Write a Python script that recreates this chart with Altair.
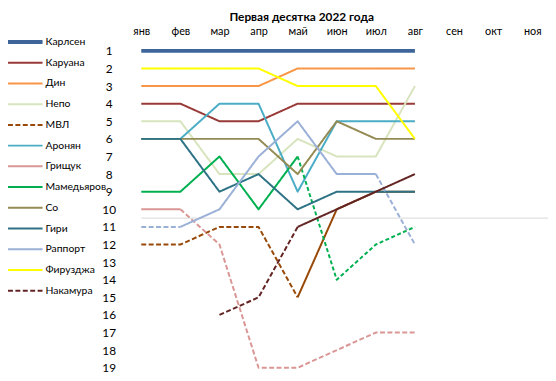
import altair as alt
import pandas as pd

# ---------------- data ----------------
months = ["янв", "фев", "мар", "апр", "май", "июн", "июл", "авг", "сен", "окт", "ноя"]
names = ["Карлсен", "Каруана", "Дин", "Непо", "МВЛ", "Аронян", "Грищук",
         "Мамедьяров", "Со", "Гири", "Раппорт", "Фирузджа", "Накамура"]
colors = ["#3E659A", "#983A37", "#F79646", "#D7E4BD", "#984807", "#4BACC6", "#D99694",
          "#00B050", "#948A54", "#2D7385", "#9BB0D6", "#FFFF00", "#632523"]

# monthly ranks, янв..авг (None = not in list)
karlsen = [1, 1, 1, 1, 1, 1, 1, 1]
caruana = [4, 4, 5, 5, 4, 4, 4, 4]
ding = [3, 3, 3, 3, 2, 2, 2, 2]
nepo = [5, 5, 8, 8, 6, 7, 7, 3]
mvl = [12, 12, 11, 11, 15, 10, 9, 9]
aronian = [6, 6, 4, 4, 9, 5, 5, 5]
grischuk = [10, 10, 12, 19, 19, 18, 17, 17]
mamedyarov = [9, 9, 7, 10, 7, 14, 12, 11]
so = [6, 6, 6, 6, 8, 5, 6, 6]
giri = [6, 6, 9, 8, 10, 9, 9, 9]
rapport = [11, 11, 10, 7, 5, 8, 8, 12]
firouzja = [2, 2, 2, 2, 3, 3, 3, 6]
nakamura = [None, None, 16, 15, 11, 10, 9, 8]

series = [karlsen, caruana, ding, nepo, mvl, aronian, grischuk,
          mamedyarov, so, giri, rapport, firouzja, nakamura]

# style of out-of-top-10 segments and of legend symbol
out_style = ["dash", "dash", "dash", "dash", "dash", "dash", "dash",
             "dot", "dash", "dash", "dash", "dash", "dash"]
legend_style = ["solid", "solid", "solid", "solid", "dash", "solid", "solid",
                "solid", "solid", "solid", "solid", "solid", "dash"]
widths = [4, 2, 2, 2, 2, 2, 2, 2, 2, 2, 2, 2, 2]
rank_ticks = list(range(1, 20))
top10_cutoff = 10.5
title_text = "Первая десятка 2022 года"

# ---------------- build segment table ----------------
rows = []
for name, vals, ostyle, w in zip(names, series, out_style, widths):
    run_id = 0
    prev_style = None
    for i in range(len(vals) - 1):
        a, b = vals[i], vals[i + 1]
        if a is None or b is None:
            continue
        style = "solid" if b <= 10 else ostyle
        if style != prev_style:
            run_id += 1
            rows.append(dict(name=name, seg=f"{name}-{run_id}", month=months[i], rank=a, style=style, w=w))
        rows.append(dict(name=name, seg=f"{name}-{run_id}", month=months[i + 1], rank=b, style=style, w=w))
        prev_style = style
df = pd.DataFrame(rows)
leg_df = pd.DataFrame({"name": names, "style": legend_style, "w": widths})
cut_df = pd.DataFrame({"cut": [top10_cutoff]})

FONT = "Lato"
color = alt.Color("name:N", scale=alt.Scale(domain=names, range=colors), legend=None)
dash = alt.StrokeDash("style:N", scale=alt.Scale(domain=["solid", "dash", "dot"],
                                                 range=[[1, 0], [5, 2.5], [4, 2.5]]), legend=None)
swidth = alt.StrokeWidth("w:Q", scale=None)
yscale = alt.Scale(domain=[1, 19], reverse=True, nice=False, zero=False)
xscale = alt.Scale(domain=months, type="point", range=[20, 416], padding=0)

cut = alt.Chart(cut_df).mark_rule(color="#D9D9D9", strokeWidth=1).encode(
    y=alt.Y("cut:Q", scale=yscale, axis=None),
    x=alt.value(20), x2=alt.value(433),
)

lines = alt.Chart(df).mark_line(strokeJoin="round").encode(
    x=alt.X("month:O", scale=xscale, sort=months,
            axis=alt.Axis(orient="top", title=None, domain=False, ticks=False, labelAngle=0,
                          labelPadding=20, labelBaseline="middle", labelFontSize=11,
                          labelColor="#000000", labelFont=FONT)),
    y=alt.Y("rank:Q", scale=yscale,
            axis=alt.Axis(values=rank_ticks, title=None, domain=False, ticks=False, grid=False,
                          labelAlign="center", labelPadding=13, labelBaseline="middle",
                          labelFontSize=12, labelColor="#000000", labelFont=FONT)),
    color=color, strokeDash=dash, strokeWidth=swidth, detail="seg:N",
)

leg_y = alt.Y("name:N", scale=alt.Scale(type="point", domain=names, range=[-9, 243], padding=0), axis=None)
leg_rule = alt.Chart(leg_df).mark_rule().encode(
    x=alt.value(-115), x2=alt.value(-80), y=leg_y,
    color=color, strokeDash=dash, strokeWidth=swidth,
)
leg_text = alt.Chart(leg_df).mark_text(align="left", baseline="middle", fontSize=10.5,
                                       font=FONT, color="#000000").encode(
    x=alt.value(-77), y=leg_y, text="name:N",
)

chart = alt.layer(cut, lines, leg_rule, leg_text).resolve_scale(y="independent").properties(
    width=425, height=321,
    title=alt.Title(title_text, fontSize=12, fontWeight="bold", anchor="middle",
                    font=FONT, dx=-30, offset=1, color="#000000"),
    autosize=alt.AutoSizeParams(type="none"),
    padding={"left": 115, "top": 41, "right": 7, "bottom": 10},
).configure_view(stroke=None)

chart.save("out.html", embed_options={"renderer": "svg", "actions": False})
